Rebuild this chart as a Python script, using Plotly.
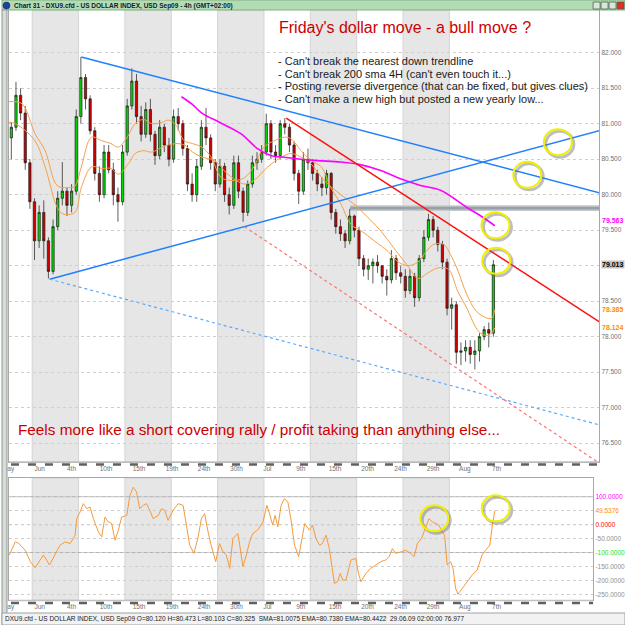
import plotly.graph_objects as go

W = H = 625

def px_x(p):
    return p / W

def px_y(p):
    return 1 - p / H

# ---------------- DATA ----------------
# 12h candles, x in trading days (0 = Mon 1 Jun 2009)
bar_day = [-2.25 + 0.5 * i for i in range(105)]
bar_open = [80.80, 80.95, 81.40, 81.15, 80.45, 79.90, 79.35, 79.75, 79.35, 78.92,
            79.55, 79.95, 80.05, 79.85, 80.05, 81.10, 81.65, 81.35, 80.90, 80.30,
            80.00, 80.60, 80.35, 80.00, 79.90, 80.60, 81.25, 81.60, 81.10, 80.85,
            81.20, 80.85, 80.55, 80.95, 80.70, 80.50, 81.10, 81.00, 80.65, 80.15,
            80.00, 80.40, 80.95, 80.80, 80.45, 80.15, 80.40, 80.00, 79.85, 80.45,
            80.05, 79.75, 80.15, 80.45, 80.50, 80.60, 81.00, 80.60, 80.55, 81.00,
            80.95, 80.70, 80.30, 80.05, 80.50, 80.45, 80.30, 80.15, 80.10, 80.30,
            79.75, 79.55, 79.45, 79.35, 79.70, 79.50, 79.10, 78.95, 79.00, 79.05,
            79.00, 78.85, 78.80, 79.10, 78.90, 78.85, 78.65, 78.85, 78.55, 79.10,
            79.40, 79.65, 79.50, 79.30, 79.05, 78.40, 78.45, 77.78, 77.80, 77.85,
            77.75, 77.80, 78.00, 78.10, 78.05]
bar_high = [81.02, 81.59, 81.50, 81.25, 80.50, 79.95, 79.85, 79.92, 79.40, 79.65,
            80.05, 80.46, 80.10, 80.15, 81.20, 81.94, 81.70, 81.40, 80.95, 80.40,
            80.70, 80.70, 80.45, 80.10, 80.70, 81.35, 81.78, 81.70, 81.25, 81.30,
            81.35, 80.90, 81.05, 81.00, 80.80, 81.20, 81.22, 81.05, 80.70, 80.30,
            80.50, 81.05, 81.22, 80.85, 80.50, 80.50, 80.45, 80.10, 80.55, 80.55,
            80.10, 80.20, 80.55, 80.60, 80.70, 81.14, 81.05, 80.70, 81.05, 81.08,
            81.00, 80.75, 80.35, 80.60, 80.65, 80.50, 80.35, 80.25, 80.35, 80.32,
            79.80, 79.65, 79.50, 79.80, 79.72, 79.55, 79.15, 79.10, 79.10, 79.15,
            79.00, 78.95, 79.22, 79.15, 79.00, 78.95, 78.95, 78.90, 79.15, 79.50,
            79.73, 79.70, 79.55, 79.35, 79.10, 78.55, 78.50, 77.92, 77.95, 77.95,
            77.95, 78.05, 78.15, 78.20, 79.08]
bar_low = [80.50, 80.90, 81.05, 80.35, 79.80, 79.08, 79.25, 79.10, 78.82, 78.88,
           79.50, 79.85, 79.70, 79.75, 80.00, 81.00, 81.20, 80.85, 80.20, 79.90,
           79.95, 80.30, 79.85, 79.62, 79.85, 80.55, 81.20, 81.00, 80.75, 80.80,
           80.75, 80.42, 80.50, 80.60, 80.40, 80.45, 80.90, 80.55, 80.05, 79.90,
           79.90, 80.35, 80.70, 80.35, 80.05, 80.10, 79.90, 79.72, 79.80, 79.95,
           79.62, 79.70, 80.10, 80.35, 80.45, 80.55, 80.50, 80.45, 80.50, 80.85,
           80.60, 80.20, 79.87, 80.00, 80.35, 80.20, 80.05, 79.98, 80.00, 79.65,
           79.45, 79.35, 79.25, 79.30, 79.40, 79.00, 78.85, 78.80, 78.75, 78.90,
           78.75, 78.58, 78.75, 78.80, 78.75, 78.55, 78.60, 78.42, 78.50, 79.05,
           79.35, 79.40, 79.20, 78.95, 78.30, 78.10, 77.62, 77.60, 77.65, 77.62,
           77.54, 77.65, 77.95, 77.85, 78.00]
bar_close = [80.95, 81.40, 81.15, 80.45, 79.90, 79.35, 79.75, 79.35, 78.92, 79.55,
             79.95, 80.05, 79.85, 80.05, 81.10, 81.65, 81.35, 80.90, 80.30, 80.00,
             80.60, 80.35, 80.00, 79.90, 80.60, 81.25, 81.60, 81.10, 80.85, 81.20,
             80.85, 80.55, 80.95, 80.70, 80.50, 81.10, 81.00, 80.65, 80.15, 80.00,
             80.40, 80.95, 80.80, 80.45, 80.15, 80.40, 80.00, 79.85, 80.45, 80.05,
             79.75, 80.15, 80.45, 80.50, 80.60, 81.00, 80.60, 80.55, 81.00, 80.95,
             80.70, 80.30, 80.05, 80.50, 80.45, 80.30, 80.15, 80.10, 80.30, 79.75,
             79.55, 79.45, 79.35, 79.70, 79.50, 79.10, 78.95, 79.00, 79.05, 79.00,
             78.85, 78.80, 79.10, 78.90, 78.85, 78.65, 78.85, 78.55, 79.10, 79.40,
             79.65, 79.50, 79.30, 79.05, 78.40, 78.45, 77.78, 77.80, 77.85, 77.75,
             77.80, 78.00, 78.10, 78.05, 79.013]

# moving averages
ema1_day = [-2.5, -1.1, 0.3, 1.4, 2.7, 3.9, 4.6, 5.3, 6.4, 7.5, 8.5, 9.3, 10.2, 11.1,
            12.0, 12.9, 14.0, 14.7, 15.5, 16.4, 17.3, 18.3, 19.3, 20.4, 21.8, 22.9,
            23.9, 25.0, 26.1, 27.2, 27.9, 29.0, 30.1, 31.2, 32.2, 33.3, 34.4, 35.5,
            36.9, 38.4, 39.4, 40.5, 41.6, 42.5, 43.3, 44.4, 45.1, 45.8, 46.9, 47.9,
            49.1, 49.6, 49.9]
ema1_val = [81.31, 81.28, 80.86, 80.62, 80.13, 80.10, 80.12, 80.39, 80.81, 80.76,
            80.72, 80.67, 80.80, 81.00, 81.06, 81.00, 81.02, 81.05, 80.98, 80.76,
            80.72, 80.67, 80.53, 80.24, 80.20, 80.24, 80.39, 80.67, 80.76, 80.81,
            80.79, 80.62, 80.48, 80.39, 80.10, 79.87, 79.58, 79.49, 79.35, 79.20,
            79.06, 79.00, 79.05, 79.20, 79.30, 79.30, 79.16, 78.97, 78.59, 78.36,
            78.26, 78.26, 78.385]
ema2_day = [-2.5, -1.8, 0.3, 1.4, 2.7, 3.3, 4.6, 5.3, 6.4, 7.5, 8.5, 9.3, 10.5, 11.1,
            12.0, 12.9, 14.0, 14.7, 15.5, 16.4, 17.3, 18.3, 19.7, 21.0, 22.9, 23.9,
            25.4, 26.9, 27.9, 29.0, 30.1, 31.5, 33.3, 34.7, 36.2, 37.6, 39.0, 40.5,
            41.6, 42.7, 43.8, 44.9, 45.9, 46.9, 47.9, 48.6, 49.4, 49.9]
ema2_val = [81.02, 81.00, 80.76, 80.39, 79.82, 79.73, 79.75, 80.10, 80.39, 80.37,
            80.37, 80.29, 80.46, 80.58, 80.62, 80.60, 80.67, 80.70, 80.72, 80.70,
            80.60, 80.53, 80.48, 80.30, 80.15, 80.20, 80.39, 80.53, 80.58, 80.53,
            80.43, 80.20, 80.00, 79.87, 79.68, 79.49, 79.25, 79.00, 78.82, 78.90,
            78.97, 78.95, 78.64, 78.40, 78.12, 78.03, 78.03, 78.124]
sma_day = [16.1, 17.2, 18.3, 20.2, 22.5, 24.3, 25.8, 26.9, 29.0, 30.8, 33.3, 35.5,
           37.6, 39.8, 41.9, 44.1, 45.8, 46.9, 48.4, 49.9]
sma_val = [81.38, 81.28, 81.15, 81.02, 80.86, 80.65, 80.55, 80.53, 80.50, 80.48,
           80.46, 80.42, 80.34, 80.22, 80.13, 80.06, 79.92, 79.82, 79.70, 79.563]

# oscillator (lower panel)
cci_day = [-2.47, -1.82, -1.5, -0.75, -0.2, 0.32, 0.86, 1.22, 1.87, 2.48, 3.0, 3.55,
           4.09, 4.63, 4.8, 5.16, 5.52, 5.88, 6.24, 6.6, 7.14, 7.5, 7.85, 8.2, 8.57,
           8.93, 9.3, 9.65, 10.2, 10.54, 10.9, 11.26, 11.6, 11.98, 12.33, 12.69,
           13.05, 13.6, 13.95, 14.3, 14.66, 15.2, 15.74, 16.28, 16.6, 16.99, 17.46,
           17.9, 18.25, 18.6, 18.97, 19.3, 19.8, 20.2, 20.58, 20.94, 21.3, 21.65,
           22.2, 22.55, 22.73, 23.1, 23.45, 23.8, 24.3, 24.9, 25.31, 25.6, 25.95,
           26.2, 26.5, 26.85, 27.2, 27.58, 27.9, 28.3, 28.75, 29.2, 29.4, 29.9, 30.25,
           30.6, 31.0, 31.3, 31.7, 32.05, 32.4, 32.6, 32.94, 33.23, 33.5, 33.84,
           34.38, 34.9, 35.16, 35.45, 36.0, 36.5, 37.06, 37.6, 38.14, 38.5, 38.86,
           39.2, 39.75, 40.3, 40.8, 41.2, 41.55, 42.0, 42.33, 42.8, 43.16, 43.5,
           43.87, 44.23, 44.48, 44.77, 45.13, 45.4, 45.67, 45.92, 46.38, 46.92,
           47.46, 48.0, 48.53, 48.9, 49.36, 49.64, 49.9]
cci_val = [-109, -62, -66, -92, -133, -155, -127, -109, -145, -109, -74, -62,
           -68, -38, 21, 45, 75, 57, 63, 21, -26, -44, 27, 10, 4,
           -56, -20, 27, 33, 105, 134, 117, 57, 69, 75, 51,
           21, 33, 57, 51, 15, 51, 75, 69, 10, -74, -103,
           -44, 21, 39, -26, -74, -133, -68, -98, -109, -157, -50,
           -32, -109, -151, -109, -62, -32, -20, 10, 69, 39, -2,
           33, -8, 69, 93, 81, 21, -74, -115, -32, 4, -20, -2,
           -50, -74, -68, -38, -86, -157, -211, -205, -175, -199, -199,
           -127, -121, -169, -205, -175, -157, -145, -133, -127, -115, -86,
           -103, -98, -92, -103, -115, -68, -50, -20, 21, 10, 4,
           -2, -26, -38, -145, -133, -157, -228, -250, -228, -205,
           -181, -163, -109, -92, -74, -2, 49.5376]

# hand-drawn trendlines: (days, prices)
blue_down = ([5.3, 61.4], [81.94, 80.02])
blue_up = ([1.88, 61.4], [78.81, 80.91])
blue_dot = ([1.88, 61.4], [78.81, 76.75])
red_down = ([27.4, 61.4], [81.08, 78.19])
red_dot = ([22.9, 61.4], [79.55, 76.20])
resist_band = (34.3, 61.6, 79.77, 79.85)

# highlight circles (day, value)
circles_main = [(56.7, 80.74), (53.4, 80.28), (49.97, 79.57), (50.05, 79.07)]
circles_osc = [(43.37, 22.6), (50.0, 58.4)]

week_bands = [(0, 5), (10, 15), (20, 25), (30, 35), (40, 45)]
tick_days = [-2.31, 0.81, 4.24, 7.97, 11.53, 15.08, 18.55, 22.03, 25.37, 28.97,
             32.66, 36.17, 39.73, 43.24, 46.67, 50.1]
tick_text = ["ay", "Jun", "4th", "10th", "15th", "19th", "24th", "30th", "Jul", "9th",
             "15th", "20th", "24th", "29th", "Aug", "7th"]

price_ticks = [82.0, 81.5, 81.0, 80.5, 80.0, 79.5, 79.0, 78.5, 78.0, 77.5, 77.0, 76.5]
price_tick_text = ["82.000", "81.500", "81.000", "80.500", "80.000", "79.500", "",
                   "78.500", "78.000", "77.500", "77.000", "76.500"]
osc_ticks = [100, 49.5376, 0, -50, -100, -150, -200, -250]
osc_tick_colors = ["#ff00ff", "#ff8c00", "#ff0000", "#909090", "#22dd22", "#909090",
                   "#909090", "#909090"]

# ---------------- FIGURE ----------------
ORANGE = "#f5a04a"
FONT = "Liberation Sans"
fig = go.Figure()

fig.add_trace(go.Candlestick(
    x=bar_day, open=bar_open, high=bar_high, low=bar_low, close=bar_close,
    increasing=dict(fillcolor="#00e000", line=dict(color="#1a1a1a", width=0.7)),
    decreasing=dict(fillcolor="#d00000", line=dict(color="#1a1a1a", width=0.7)),
    whiskerwidth=0, xaxis="x", yaxis="y", hoverinfo="skip", showlegend=False))

for dd, vv in [(ema1_day, ema1_val), (ema2_day, ema2_val)]:
    fig.add_trace(go.Scatter(x=dd, y=vv, mode="lines", line=dict(color=ORANGE, width=1, shape="spline"),
                             xaxis="x", yaxis="y", hoverinfo="skip", showlegend=False))
fig.add_trace(go.Scatter(x=sma_day, y=sma_val, mode="lines",
                         line=dict(color="#ff00ff", width=1.6, shape="spline"),
                         xaxis="x", yaxis="y", hoverinfo="skip", showlegend=False))

for (xx, yy), col, dash, wd in [(blue_down, "#1f7fff", "solid", 1.5), (blue_up, "#1f7fff", "solid", 1.5),
                                 (blue_dot, "#5aa8ff", "dot", 1.2), (red_down, "#ff1010", "solid", 1.5),
                                 (red_dot, "#ff7070", "dot", 1.2)]:
    fig.add_trace(go.Scatter(x=xx, y=yy, mode="lines", line=dict(color=col, width=wd, dash=dash),
                             xaxis="x", yaxis="y", hoverinfo="skip", showlegend=False))

fig.add_trace(go.Scatter(x=cci_day, y=cci_val, mode="lines", line=dict(color="#f79a3a", width=1),
                         xaxis="x2", yaxis="y2", hoverinfo="skip", showlegend=False))

shapes = []
# week bands
for a, b in week_bands:
    for xr, yr in [("x", "y domain"), ("x2", "y2 domain")]:
        shapes.append(dict(type="rect", xref=xr, yref=yr, x0=a, x1=b, y0=0, y1=1,
                           fillcolor="#e6e6e6", line=dict(color="#d4d4d4", width=1), layer="below"))
# resistance band
x0, x1, y0, y1 = resist_band
shapes.append(dict(type="rect", xref="x", yref="y", x0=x0, x1=x1, y0=y0, y1=y1,
                   fillcolor="#c4c9ce", line=dict(width=0), layer="below"))
shapes.append(dict(type="rect", xref="x", yref="y", x0=x0, x1=x1, y0=y0 + 0.02, y1=y1 - 0.02,
                   fillcolor="#98a0a8", line=dict(width=0), layer="below"))
# oscillator levels
for lvl, col, dash in [(100, "#b0b0b0", "solid"), (-100, "#b0b0b0", "solid"), (0, "#ff2020", "dot")]:
    shapes.append(dict(type="line", xref="x2 domain", yref="y2", x0=0, x1=1, y0=lvl, y1=lvl,
                       line=dict(color=col, width=1, dash=dash), layer="below"))
# circles
def add_circle(xr, yr, cx, cy):
    shapes.append(dict(type="circle", xref=xr, yref=yr, xsizemode="pixel", ysizemode="pixel",
                       xanchor=cx, yanchor=cy, x0=-12, x1=16, y0=-15, y1=11,
                       line=dict(color="rgba(110,110,110,0.45)", width=3)))
    shapes.append(dict(type="circle", xref=xr, yref=yr, xsizemode="pixel", ysizemode="pixel",
                       xanchor=cx, yanchor=cy, x0=-14, x1=14, y0=-13, y1=13,
                       line=dict(color="#f0f000", width=2)))
for cx, cy in circles_main:
    add_circle("x", "y", cx, cy)
for cx, cy in circles_osc:
    add_circle("x2", "y2", cx, cy)

# axis dash bars
for yp, xr in [(463.5, 599), (602, 593)]:
    shapes.append(dict(type="line", xref="paper", yref="paper", x0=px_x(7), x1=px_x(xr),
                       y0=px_y(yp - 1.5), y1=px_y(yp - 1.5), line=dict(color="#c0c0c0", width=1.5)))
    shapes.append(dict(type="line", xref="paper", yref="paper", x0=px_x(9), x1=px_x(xr),
                       y0=px_y(yp + 1), y1=px_y(yp + 1), line=dict(color="#606060", width=2.5, dash="8px,9px")))
# window chrome
shapes.append(dict(type="rect", xref="paper", yref="paper", x0=0, x1=1, y0=px_y(10), y1=1,
                   fillcolor="#b4dcb4", line=dict(color="#80b080", width=1)))
shapes.append(dict(type="rect", xref="paper", yref="paper", x0=0, x1=px_x(5), y0=0, y1=px_y(10),
                   fillcolor="#d8dcd8", line=dict(color="#909890", width=1)))
shapes.append(dict(type="rect", xref="paper", yref="paper", x0=px_x(0), x1=1, y0=0, y1=px_y(613),
                   fillcolor="#f2f2f2", line=dict(color="#a0a0a0", width=1)))
for i, col in enumerate(["#d8e8d8", "#d8e8d8", "#d8e8d8", "#e03020"]):
    shapes.append(dict(type="rect", xref="paper", yref="paper", x0=px_x(593 + 8 * i), x1=px_x(600 + 8 * i),
                       y0=px_y(9), y1=px_y(2), fillcolor=col, line=dict(color="#506050", width=0.8)))
shapes.append(dict(type="circle", xref="paper", yref="paper", x0=px_x(1), x1=px_x(8), y0=px_y(9), y1=px_y(2),
                   fillcolor="#2040a0", line=dict(color="#102050", width=0.5)))

annotations = []
annotations.append(dict(xref="paper", yref="paper", x=px_x(10), y=px_y(5.5), xanchor="left", yanchor="middle",
                        text="<b>Chart 31 - DXU9.cfd - US DOLLAR INDEX, USD Sep09 - 4h (GMT+02:00)</b>",
                        showarrow=False, font=dict(family=FONT, size=6.5, color="#102030")))
annotations.append(dict(xref="paper", yref="paper", x=px_x(276), y=px_y(27), xanchor="left", yanchor="middle",
                        text="Friday's dollar move - a bull move ?", showarrow=False,
                        font=dict(family=FONT, size=16, color="#cc0000")))
bullets = ["- Can't break the nearest down trendline",
           "- Can't break 200 sma 4H (can't even touch it...)",
           "- Posting reverse divergence (that can be fixed, but gives clues)",
           "- Can't make a new high but posted a new yearly low..."]
for i, t in enumerate(bullets):
    annotations.append(dict(xref="paper", yref="paper", x=px_x(275), y=px_y(61 + 12.6 * i),
                            xanchor="left", yanchor="middle", text=t, showarrow=False,
                            font=dict(family=FONT, size=11, color="#1a1a1a")))
annotations.append(dict(xref="paper", yref="paper", x=px_x(14), y=px_y(430), xanchor="left", yanchor="middle",
                        text="Feels more like a short covering rally / profit taking than anything else...",
                        showarrow=False, font=dict(family=FONT, size=15.3, color="#cc0000")))
# right-side value labels
for val, txt, col, bg, ys in [(sma_val[-1], "79.563", "#ff00ff", None, 5),
                              (bar_close[-1], "79.013", "#000000", "#c4c4c4", 0),
                              (ema1_val[-1], "78.385", "#ff8c00", None, 0),
                              (ema2_val[-1], "78.124", "#ff8c00", None, 0)]:
    a = dict(xref="paper", yref="y", x=px_x(600.5), y=val, xanchor="left", yanchor="middle",
             text="<b>%s</b>" % txt, showarrow=False, font=dict(family=FONT, size=7, color=col),
             borderpad=0, yshift=ys)
    if bg:
        a["bgcolor"] = bg
    annotations.append(a)
annotations.append(dict(xref="paper", yref="paper", x=px_x(1), y=px_y(619), xanchor="left", yanchor="middle",
                        text="DXU9.cfd - US DOLLAR INDEX, USD Sep09 O=80.120 H=80.473 L=80.103 C=80.325  "
                             "SMA=81.0075 EMA=80.7380 EMA=80.4422  29.06.09 02:00:00 76.977",
                        showarrow=False, font=dict(family=FONT, size=6.5, color="#202020")))

axis_common = dict(zeroline=False, showline=True, linecolor="#a8a8a8", mirror=True,
                   ticks="", tickfont=dict(family=FONT, size=6.5, color="#707070"))
main_left = -2.505
px_per_day = 9.3
fig.update_layout(
    width=W, height=H, margin=dict(l=0, r=0, t=0, b=0),
    paper_bgcolor="white", plot_bgcolor="white", showlegend=False,
    xaxis=dict(domain=[px_x(7), px_x(599)], range=[main_left, main_left + (599 - 7) / px_per_day],
               tickvals=tick_days, ticktext=tick_text, anchor="y", rangeslider=dict(visible=False),
               showgrid=False, **axis_common),
    yaxis=dict(domain=[px_y(462), px_y(10)], range=[82 - (462 - 52.7) / 71.0, 82 + (52.7 - 10) / 71.0],
               side="right", anchor="x", tickvals=price_ticks, ticktext=price_tick_text,
               showgrid=True, gridcolor="#cfcfcf", griddash="dot", gridwidth=1, **axis_common),
    xaxis2=dict(domain=[px_x(7), px_x(593)], range=[main_left, main_left + (593 - 7) / px_per_day],
                tickvals=tick_days, ticktext=tick_text, anchor="y2", showgrid=False, **axis_common),
    yaxis2=dict(domain=[px_y(600), px_y(478)], range=[-250 - (600 - 594.3) / 0.2789, 100 + (496.7 - 478) / 0.2789],
                side="right", anchor="x2", tickvals=osc_ticks,
                ticktext=['<span style="color:%s">%.4f</span>' % (c, v) for v, c in zip(osc_ticks, osc_tick_colors)],
                showgrid=True, gridcolor="#cfcfcf", griddash="dot", gridwidth=1, **axis_common),
    shapes=shapes, annotations=annotations,
)

fig.write_html("out.html")
